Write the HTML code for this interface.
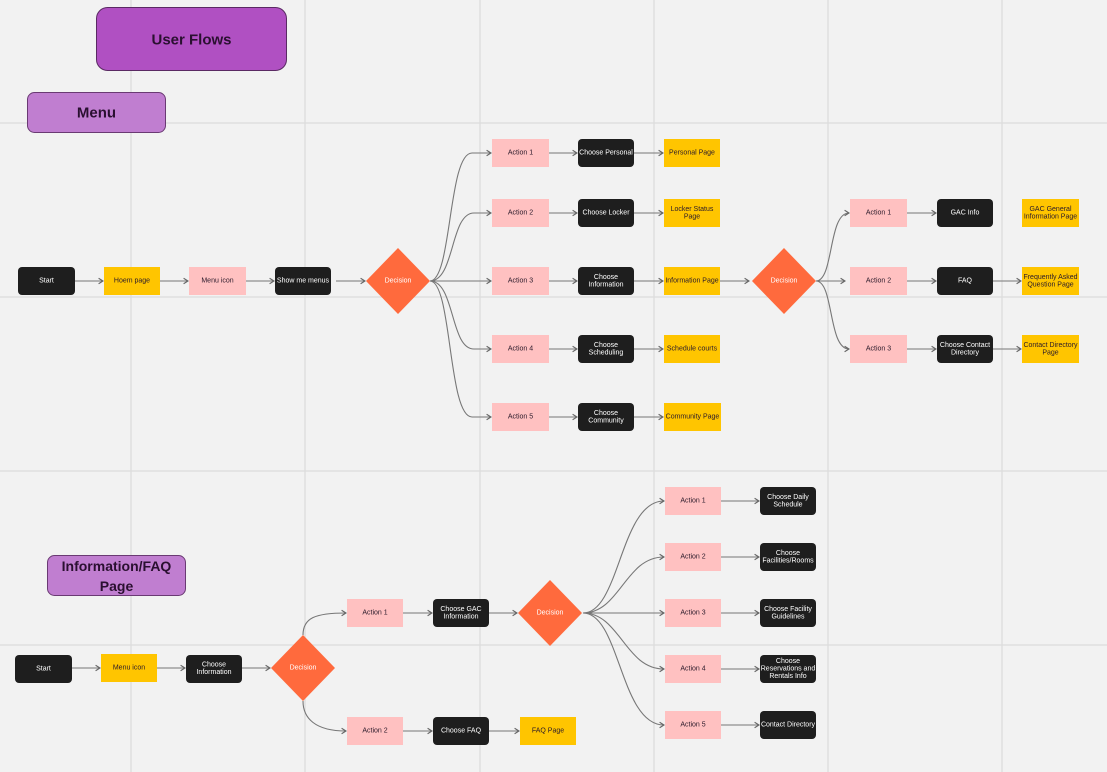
<!DOCTYPE html>
<html><head><meta charset="utf-8"><style>
html,body{margin:0;padding:0;background:#f2f2f2;}
svg{display:block;font-family:"Liberation Sans",sans-serif;}
.p{fill:#ffc1c1}.b{fill:#1e1e1e}.y{fill:#ffc500}.d{fill:#ff6a3d}
.t{font-size:7px;fill:#2a1a2a;text-anchor:middle;dominant-baseline:central}
.w{font-size:7px;fill:#fff;text-anchor:middle;dominant-baseline:central}
.l{stroke:#777;stroke-width:1.1;fill:none;marker-end:url(#a)}
.g{stroke:#dcdcdc;stroke-width:1.2}
</style></head><body>
<svg width="1107" height="772" viewBox="0 0 1107 772">
<defs><marker id="a" markerWidth="6" markerHeight="6" refX="5" refY="3" orient="auto"><path d="M1,0.5 L5,3 L1,5.5" fill="none" stroke="#666" stroke-width="1"/></marker></defs>
<rect width="1107" height="772" fill="#f2f2f2"/>
<g class="g">
<line x1="131" y1="0" x2="131" y2="772"/><line x1="305" y1="0" x2="305" y2="772"/><line x1="480" y1="0" x2="480" y2="772"/><line x1="654" y1="0" x2="654" y2="772"/><line x1="828" y1="0" x2="828" y2="772"/><line x1="1002" y1="0" x2="1002" y2="772"/>
<line x1="0" y1="123" x2="1107" y2="123"/><line x1="0" y1="297" x2="1107" y2="297"/><line x1="0" y1="471" x2="1107" y2="471"/><line x1="0" y1="645" x2="1107" y2="645"/>
</g>
<!-- titles -->
<rect x="96.5" y="7.5" width="190" height="63" rx="11" fill="#b050c2" stroke="#5a2a63"/>
<text x="191.5" y="40" style="font-size:15px;font-weight:bold;fill:#2a1030;text-anchor:middle;dominant-baseline:central">User Flows</text>
<rect x="27.5" y="92.5" width="138" height="40" rx="7" fill="#c07ed0" stroke="#6a3a73"/>
<text x="96.5" y="113" style="font-size:15px;font-weight:bold;fill:#2a1030;text-anchor:middle;dominant-baseline:central">Menu</text>
<rect x="47.5" y="555.5" width="138" height="40" rx="7" fill="#c07ed0" stroke="#6a3a73"/>
<text x="116.5" y="566" style="font-size:14px;font-weight:bold;fill:#2a1030;text-anchor:middle;dominant-baseline:central">Information/FAQ</text>
<text x="116.5" y="586" style="font-size:14px;font-weight:bold;fill:#2a1030;text-anchor:middle;dominant-baseline:central">Page</text>

<!-- top connectors -->
<path class="l" d="M75,281 H103"/><path class="l" d="M160,281 H188"/><path class="l" d="M246,281 H274"/><path class="l" d="M336,281 H365"/>
<path class="l" d="M430,281 C452,281 448,153 472,153 H491"/>
<path class="l" d="M430,281 C455,281 450,213 474,213 H491"/>
<path class="l" d="M430,281 H491"/>
<path class="l" d="M430,281 C455,281 450,349 474,349 H491"/>
<path class="l" d="M430,281 C452,281 448,417 472,417 H491"/>
<g>
<path class="l" d="M549,153 H577"/><path class="l" d="M549,213 H577"/><path class="l" d="M549,281 H577"/><path class="l" d="M549,349 H577"/><path class="l" d="M549,417 H577"/>
<path class="l" d="M634,153 H663"/><path class="l" d="M634,213 H663"/><path class="l" d="M634,281 H663"/><path class="l" d="M634,349 H663"/><path class="l" d="M634,417 H663"/>
<path class="l" d="M720,281 H749"/>
<path class="l" d="M816,281 C834,281 828,213 849,213"/>
<path class="l" d="M816,281 H845"/>
<path class="l" d="M816,281 C834,281 828,349 849,349"/>
<path class="l" d="M907,213 H936"/><path class="l" d="M907,281 H936"/><path class="l" d="M907,349 H936"/>
<path class="l" d="M993,281 H1021"/><path class="l" d="M993,349 H1021"/>
</g>
<!-- top nodes -->
<rect class="b" x="18" y="267" width="57" height="28" rx="4"/><text class="w" x="46.5" y="281">Start</text>
<rect class="y" x="104" y="267" width="56" height="28"/><text class="t" x="132" y="281">Hoem page</text>
<rect class="p" x="189" y="267" width="57" height="28"/><text class="t" x="217.5" y="281">Menu icon</text>
<rect class="b" x="275" y="267" width="56" height="28" rx="4"/><text class="w" x="303" y="281">Show me menus</text>
<polygon class="d" points="398,248 430,281 398,314 366,281"/><text class="w" x="398" y="281">Decision</text>

<rect class="p" x="492" y="139" width="57" height="28"/><text class="t" x="520.5" y="153">Action 1</text>
<rect class="p" x="492" y="199" width="57" height="28"/><text class="t" x="520.5" y="213">Action 2</text>
<rect class="p" x="492" y="267" width="57" height="28"/><text class="t" x="520.5" y="281">Action 3</text>
<rect class="p" x="492" y="335" width="57" height="28"/><text class="t" x="520.5" y="349">Action 4</text>
<rect class="p" x="492" y="403" width="57" height="28"/><text class="t" x="520.5" y="417">Action 5</text>

<rect class="b" x="578" y="139" width="56" height="28" rx="4"/><text class="w" x="606" y="153">Choose Personal</text>
<rect class="b" x="578" y="199" width="56" height="28" rx="4"/><text class="w" x="606" y="213">Choose Locker</text>
<rect class="b" x="578" y="267" width="56" height="28" rx="4"/><text class="w" x="606" y="277.5">Choose</text><text class="w" x="606" y="285">Information</text>
<rect class="b" x="578" y="335" width="56" height="28" rx="4"/><text class="w" x="606" y="345.5">Choose</text><text class="w" x="606" y="353">Scheduling</text>
<rect class="b" x="578" y="403" width="56" height="28" rx="4"/><text class="w" x="606" y="413.5">Choose</text><text class="w" x="606" y="421">Community</text>

<rect class="y" x="664" y="139" width="56" height="28"/><text class="t" x="692" y="153">Personal Page</text>
<rect class="y" x="664" y="199" width="56" height="28"/><text class="t" x="692" y="209.5">Locker Status</text><text class="t" x="692" y="217">Page</text>
<rect class="y" x="664" y="267" width="56" height="28"/><text class="t" x="692" y="281">Information Page</text>
<rect class="y" x="664" y="335" width="56" height="28"/><text class="t" x="692" y="349">Schedule courts</text>
<rect class="y" x="664" y="403" width="57" height="28"/><text class="t" x="692.5" y="417">Community Page</text>

<polygon class="d" points="784,248 816,281 784,314 752,281"/><text class="w" x="784" y="281">Decision</text>
<rect class="p" x="850" y="199" width="57" height="28"/><text class="t" x="878.5" y="213">Action 1</text>
<rect class="p" x="850" y="267" width="57" height="28"/><text class="t" x="878.5" y="281">Action 2</text>
<rect class="p" x="850" y="335" width="57" height="28"/><text class="t" x="878.5" y="349">Action 3</text>
<rect class="b" x="937" y="199" width="56" height="28" rx="4"/><text class="w" x="965" y="213">GAC Info</text>
<rect class="b" x="937" y="267" width="56" height="28" rx="4"/><text class="w" x="965" y="281">FAQ</text>
<rect class="b" x="937" y="335" width="56" height="28" rx="4"/><text class="w" x="965" y="345.5">Choose Contact</text><text class="w" x="965" y="353">Directory</text>
<rect class="y" x="1022" y="199" width="57" height="28"/><text class="t" x="1050.5" y="209.5">GAC General</text><text class="t" x="1050.5" y="217">Information Page</text>
<rect class="y" x="1022" y="267" width="57" height="28"/><text class="t" x="1050.5" y="277.5">Frequently Asked</text><text class="t" x="1050.5" y="285">Question Page</text>
<rect class="y" x="1022" y="335" width="57" height="28"/><text class="t" x="1050.5" y="345.5">Contact Directory</text><text class="t" x="1050.5" y="353">Page</text>

<!-- bottom connectors -->
<path class="l" d="M72,668 H100"/><path class="l" d="M157,668 H185"/><path class="l" d="M242,668 H270"/>
<path class="l" d="M303,635 C303,618 315,613 346,613"/>
<path class="l" d="M303,701 C303,718 315,731 346,731"/>
<path class="l" d="M403,613 H432"/><path class="l" d="M403,731 H432"/>
<path class="l" d="M489,613 H517"/><path class="l" d="M489,731 H519"/>
<path class="l" d="M583,613 C620,613 620,501 664,501"/>
<path class="l" d="M583,613 C620,613 625,557 664,557"/>
<path class="l" d="M583,613 H664"/>
<path class="l" d="M583,613 C620,613 625,669 664,669"/>
<path class="l" d="M583,613 C620,613 620,725 664,725"/>
<path class="l" d="M721,501 H759"/><path class="l" d="M721,557 H759"/><path class="l" d="M721,613 H759"/><path class="l" d="M721,669 H759"/><path class="l" d="M721,725 H759"/>
<!-- bottom nodes -->
<rect class="b" x="15" y="655" width="57" height="28" rx="4"/><text class="w" x="43.5" y="669">Start</text>
<rect class="y" x="101" y="654" width="56" height="28"/><text class="t" x="129" y="668">Menu icon</text>
<rect class="b" x="186" y="655" width="56" height="28" rx="4"/><text class="w" x="214" y="665">Choose</text><text class="w" x="214" y="672.5">Information</text>
<polygon class="d" points="303,635 335,668 303,701 271,668"/><text class="w" x="303" y="668">Decision</text>
<rect class="p" x="347" y="599" width="56" height="28"/><text class="t" x="375" y="613">Action 1</text>
<rect class="p" x="347" y="717" width="56" height="28"/><text class="t" x="375" y="731">Action 2</text>
<rect class="b" x="433" y="599" width="56" height="28" rx="4"/><text class="w" x="461" y="609.5">Choose GAC</text><text class="w" x="461" y="617">Information</text>
<rect class="b" x="433" y="717" width="56" height="28" rx="4"/><text class="w" x="461" y="731">Choose FAQ</text>
<rect class="y" x="520" y="717" width="56" height="28"/><text class="t" x="548" y="731">FAQ Page</text>
<polygon class="d" points="550,580 582,613 550,646 518,613"/><text class="w" x="550" y="613">Decision</text>

<rect class="p" x="665" y="487" width="56" height="28"/><text class="t" x="693" y="501">Action 1</text>
<rect class="p" x="665" y="543" width="56" height="28"/><text class="t" x="693" y="557">Action 2</text>
<rect class="p" x="665" y="599" width="56" height="28"/><text class="t" x="693" y="613">Action 3</text>
<rect class="p" x="665" y="655" width="56" height="28"/><text class="t" x="693" y="669">Action 4</text>
<rect class="p" x="665" y="711" width="56" height="28"/><text class="t" x="693" y="725">Action 5</text>
<rect class="b" x="760" y="487" width="56" height="28" rx="4"/><text class="w" x="788" y="497.5">Choose Daily</text><text class="w" x="788" y="505">Schedule</text>
<rect class="b" x="760" y="543" width="56" height="28" rx="4"/><text class="w" x="788" y="553.5">Choose</text><text class="w" x="788" y="561">Facilities/Rooms</text>
<rect class="b" x="760" y="599" width="56" height="28" rx="4"/><text class="w" x="788" y="609.5">Choose Facility</text><text class="w" x="788" y="617">Guidelines</text>
<rect class="b" x="760" y="655" width="56" height="28" rx="4"/><text class="w" x="788" y="661.5">Choose</text><text class="w" x="788" y="669">Reservations and</text><text class="w" x="788" y="676.5">Rentals Info</text>
<rect class="b" x="760" y="711" width="56" height="28" rx="4"/><text class="w" x="788" y="725">Contact Directory</text>
</svg>
</body></html>
